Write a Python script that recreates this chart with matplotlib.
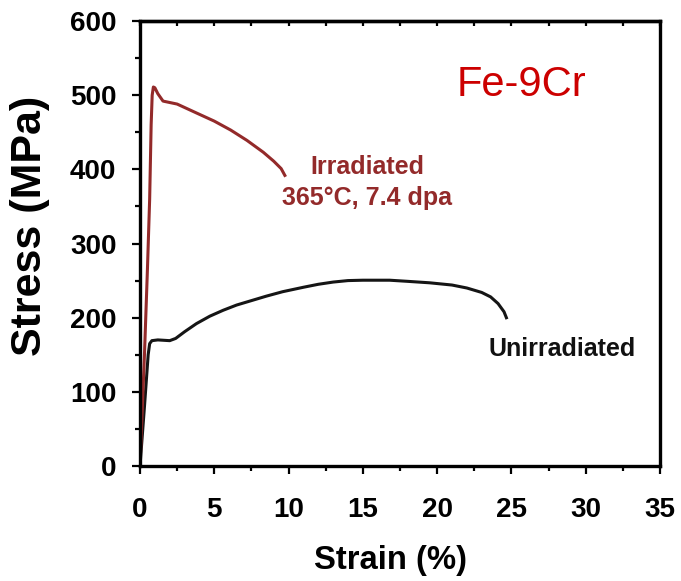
import matplotlib
matplotlib.use("Agg")
import matplotlib.pyplot as plt
import numpy as np

plt.rcParams['font.family'] = ['Liberation Sans', 'DejaVu Sans']

# Data
irr_strain = [0, 0.3, 0.5, 0.65, 0.75, 0.82, 0.9, 1.0, 1.2, 1.55, 2.5, 3.8, 5.0, 6.1, 7.2, 8.3, 9.0, 9.5, 9.8]
irr_stress = [0, 150, 265, 360, 460, 500, 511, 510, 502, 492, 488, 476, 465, 453, 439, 423, 411, 401, 390]

unirr_strain = [0, 0.3, 0.55, 0.65, 0.8, 1.2, 2.0, 2.4, 3.0, 3.8, 4.7, 5.6, 6.5, 7.5, 8.5, 9.6, 11, 12, 13, 14,
                15, 16.8, 18, 19.5, 21, 22, 23, 23.6, 24.1, 24.5, 24.7]
unirr_stress = [0, 80, 150, 165, 169, 170, 169, 172, 181, 192, 202, 210, 217, 223, 229, 235, 241, 245, 248, 250,
                250.5, 250.5, 249, 247, 244, 240, 234, 228, 219, 208, 198]

x_ticks = [0, 5, 10, 15, 20, 25, 30, 35]
y_ticks = [0, 100, 200, 300, 400, 500, 600]

irr_color = '#932A2A'
unirr_color = '#151515'

fig = plt.figure(figsize=(6.81, 5.81), dpi=100)
ax = fig.add_axes([140/681, 115/581, 520/681, 445/581])

ax.plot(unirr_strain, unirr_stress, color=unirr_color, lw=2.2, solid_capstyle='butt')
ax.plot(irr_strain, irr_stress, color=irr_color, lw=2.2, solid_capstyle='butt')

ax.set_xlim(0, 35)
ax.set_ylim(0, 600)
ax.set_xticks(x_ticks)
ax.set_yticks(y_ticks)
ax.set_xticks(np.arange(0, 35.1, 2.5), minor=True)
ax.set_yticks(np.arange(0, 601, 50), minor=True)

for s in ax.spines.values():
    s.set_linewidth(2.4)

ax.tick_params(axis='both', which='major', direction='out', length=6, width=1.6,
               labelsize=20)
ax.tick_params(axis='both', which='minor', direction='out', length=3.5, width=1.6)
ax.tick_params(axis='x', which='both', pad=16)
ax.tick_params(axis='y', which='both', pad=11)
for lab in ax.get_xticklabels() + ax.get_yticklabels():
    lab.set_fontweight('bold')

# top inward ticks
sec = ax.secondary_xaxis('top')
sec.set_xticks(np.arange(0, 35.1, 2.5))
sec.tick_params(direction='in', length=3.5, width=1.6, labeltop=False)
sec.spines['top'].set_linewidth(2.4)

ax.set_xlabel('Strain (%)', fontsize=23.6, fontweight='bold')
ax.xaxis.label.set_va('center')
ax.xaxis.set_label_coords(0.481, -0.212)
ax.set_ylabel('Stress (MPa)', fontsize=31, fontweight='bold')
ax.yaxis.label.set_va('center')
ax.yaxis.set_label_coords(-0.212, 0.54)

ax.text(25.7, 514, 'Fe-9Cr', color='#CC0000', fontsize=30, ha='center', va='center')
ax.text(15.3, 403, 'Irradiated', color=irr_color, fontsize=18, fontweight='bold', ha='center', va='center')
ax.text(15.3, 362, '365°C, 7.4 dpa', color=irr_color, fontsize=18, fontweight='bold', ha='center', va='center')
ax.text(28.4, 158, 'Unirradiated', color='#111111', fontsize=18, fontweight='bold', ha='center', va='center')

fig.savefig('out.png', dpi=100)
